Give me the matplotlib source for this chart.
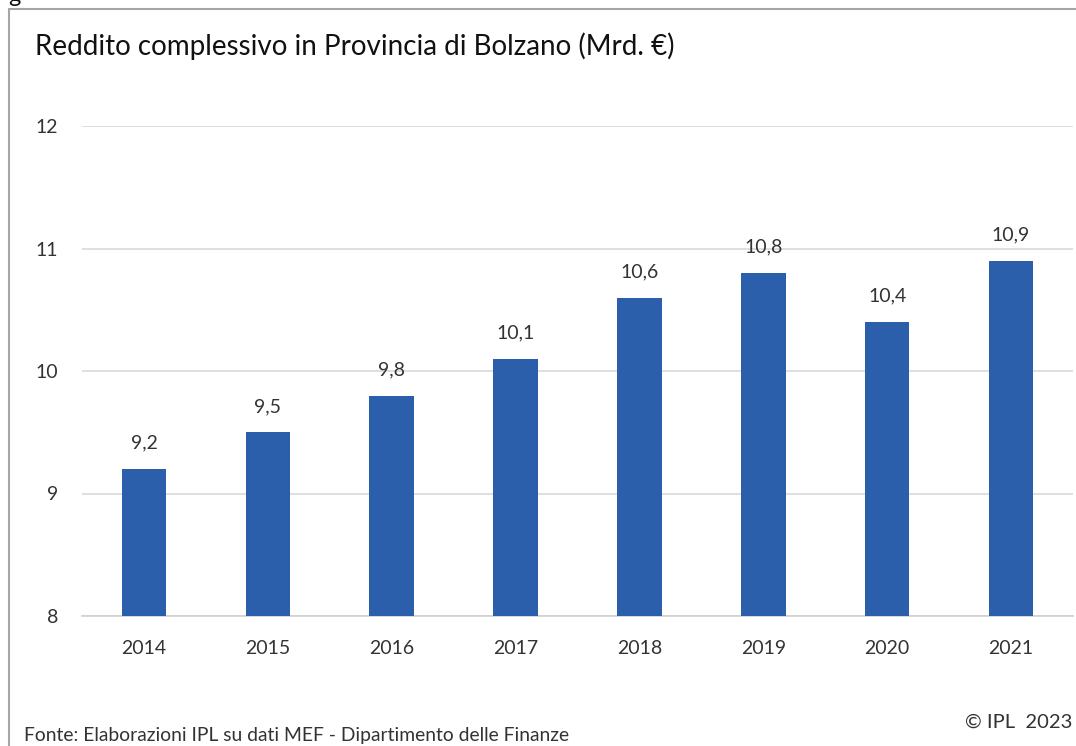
import matplotlib.pyplot as plt
from matplotlib.patches import Rectangle

anni = ['2014', '2015', '2016', '2017', '2018', '2019', '2020', '2021']
reddito = [9.2, 9.5, 9.8, 10.1, 10.6, 10.8, 10.4, 10.9]
y_ticks = [8, 9, 10, 11, 12]

plt.rcParams['font.family'] = ['Lato', 'DejaVu Sans']

fig = plt.figure(figsize=(10.76, 7.46), dpi=100)
W, H = 1076, 746
ax = fig.add_axes([82 / W, 1 - 616 / H, 991 / W, (616 - 126) / H])

x = range(len(anni))
ax.bar(x, reddito, width=0.36, color='#2B5EAB', zorder=3)
for i, v in enumerate(reddito):
    ax.text(i, v + 0.21, f'{v:.1f}'.replace('.', ','), ha='center', va='center',
            fontsize=14, color='#333333')

ax.set_xlim(-0.5, len(anni) - 0.5)
ax.set_ylim(8, 12)
ax.set_yticks(y_ticks)
ax.set_xticks(list(x))
ax.set_xticklabels(anni)
ax.grid(axis='y', color='#D9D9D9', linewidth=1.2, zorder=0)
for s in ['top', 'right', 'left']:
    ax.spines[s].set_visible(False)
ax.spines['bottom'].set_color('#D0D0D0')
ax.spines['bottom'].set_linewidth(1.2)
ax.tick_params(axis='both', length=0, labelsize=14, colors='#333333')
ax.tick_params(axis='y', pad=17)
ax.tick_params(axis='x', pad=17)

# cornice
fig.patches.append(Rectangle((9 / W, -0.1), 1.2, 1 - 9 / H + 0.1, transform=fig.transFigure,
                             fill=False, edgecolor='#A6A6A6', linewidth=1.5))
fig.text(35 / W, 1 - 46 / H, 'Reddito complessivo in Provincia di Bolzano (Mrd. €)',
         fontsize=20, va='center', ha='left', color='#111111')
fig.text(8 / W, 1 + 4 / H, 'g', fontsize=17, va='center', ha='left', color='#111111')
fig.text(24 / W, 1 - 735 / H, 'Fonte: Elaborazioni IPL su dati MEF - Dipartimento delle Finanze',
         fontsize=13.9, va='center', ha='left', color='#333333')
fig.text(1072 / W, 1 - 722 / H, '© IPL  2023', fontsize=14.5, va='center', ha='right',
         color='#333333')

fig.savefig('out.png', dpi=100)
